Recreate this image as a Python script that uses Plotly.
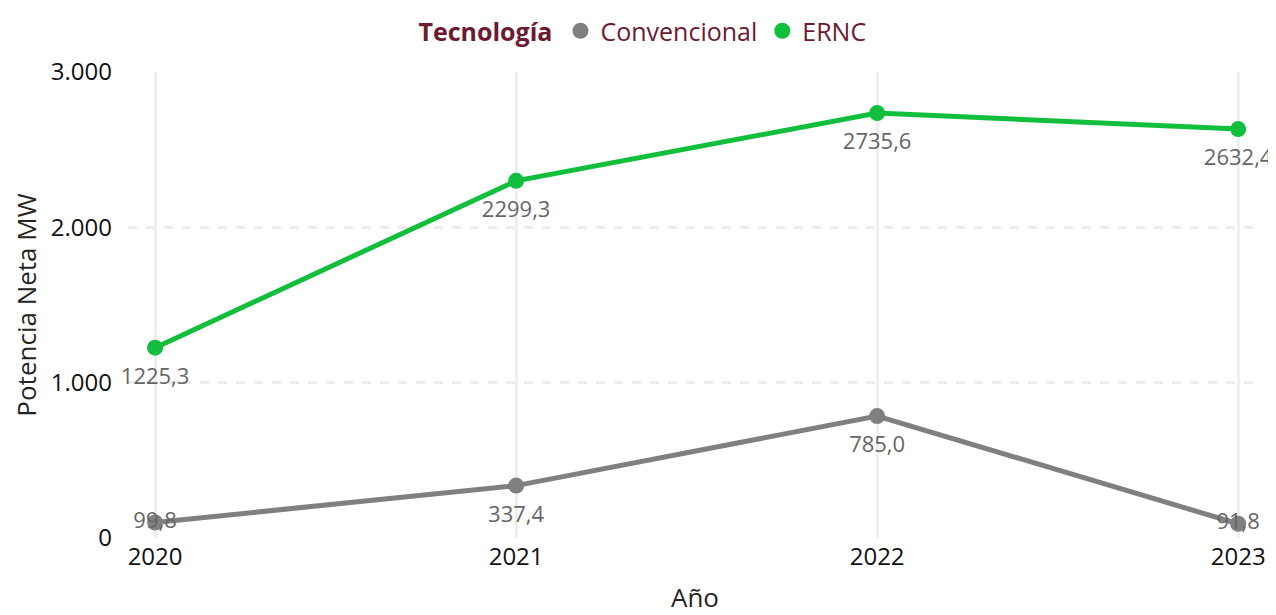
import plotly.graph_objects as go

# Potencia neta por año y tecnología (MW)
years = [2020, 2021, 2022, 2023]
convencional = [99.8, 337.4, 785.0, 91.8]
ernc = [1225.3, 2299.3, 2735.6, 2632.4]

y_ticks = [0, 1000, 2000, 3000]

GRAY = "#808080"
GREEN = "#12BF3C"
MAROON = "#6B1A30"
FONT = "Open Sans, Noto Sans, sans-serif"

fig = go.Figure()

# gray labels at the ends sit on the marker (clamped inside the plot area)
conv_pos = ["middle center", "bottom center", "bottom center", "middle center"]

for name, vals, col, pos in [("Convencional", convencional, GRAY, conv_pos),
                             ("ERNC", ernc, GREEN, "bottom center")]:
    fig.add_trace(go.Scatter(
        x=years, y=vals,
        name=name, showlegend=False,
        mode="lines+markers",
        line=dict(color=col, width=5),
        marker=dict(size=16, color=col),
    ))
    # data labels: an invisible, larger marker pushes the text a bit further down
    fig.add_trace(go.Scatter(
        x=years, y=vals,
        showlegend=False, hoverinfo="skip",
        mode="markers+text",
        marker=dict(size=30, opacity=0),
        texttemplate="%{y:.1f}",
        textposition=pos,
        textfont=dict(size=22, color="#666666", family=FONT),
        cliponaxis=False,
    ))

# legend entries: plain circles, like the original
for name, col in [("Convencional", GRAY), ("ERNC", GREEN)]:
    fig.add_trace(go.Scatter(
        x=[None], y=[None], mode="markers",
        marker=dict(size=19, color=col),
        name=name, showlegend=True,
    ))

fig.update_xaxes(
    range=[2019.925, 2023.066],
    tickvals=years,
    ticktext=[str(y) for y in years],
    showgrid=True, gridcolor="#EFEFEF", gridwidth=3,
    zeroline=False, showline=False,
    automargin=False,
    ticklabelstandoff=2,
    tickfont=dict(size=24, color="#111111"),
    title=dict(text="Año", font=dict(size=26, color="#252423"), standoff=18),
)

fig.update_yaxes(
    range=[0, 3000],
    tickvals=y_ticks,
    tickformat=",d",
    showgrid=True, gridcolor="#EDEDED", gridwidth=3, griddash="dash",
    zeroline=False, showline=False,
    automargin=False,
    ticklabelstandoff=15,
    tickfont=dict(size=24, color="#111111"),
    title=dict(text="Potencia Neta MW", font=dict(size=26, color="#252423"), standoff=6),
)

# page body adds 8px around the figure, so the figure is 8px smaller
fig.update_layout(
    width=1268, height=607,
    separators=",.",
    font=dict(family=FONT),
    plot_bgcolor="white",
    paper_bgcolor="white",
    margin=dict(l=120, r=14, t=64, b=77),
    showlegend=True,
    legend=dict(
        orientation="h",
        x=0.455, xanchor="center",
        y=1.0, yanchor="top",
        yref="container",
        title=dict(text="<b>Tecnología</b>", font=dict(size=25, color=MAROON)),
        font=dict(size=25, color=MAROON),
        itemwidth=30,
        tracegroupgap=0,
    ),
)

fig.write_html("out.html")
